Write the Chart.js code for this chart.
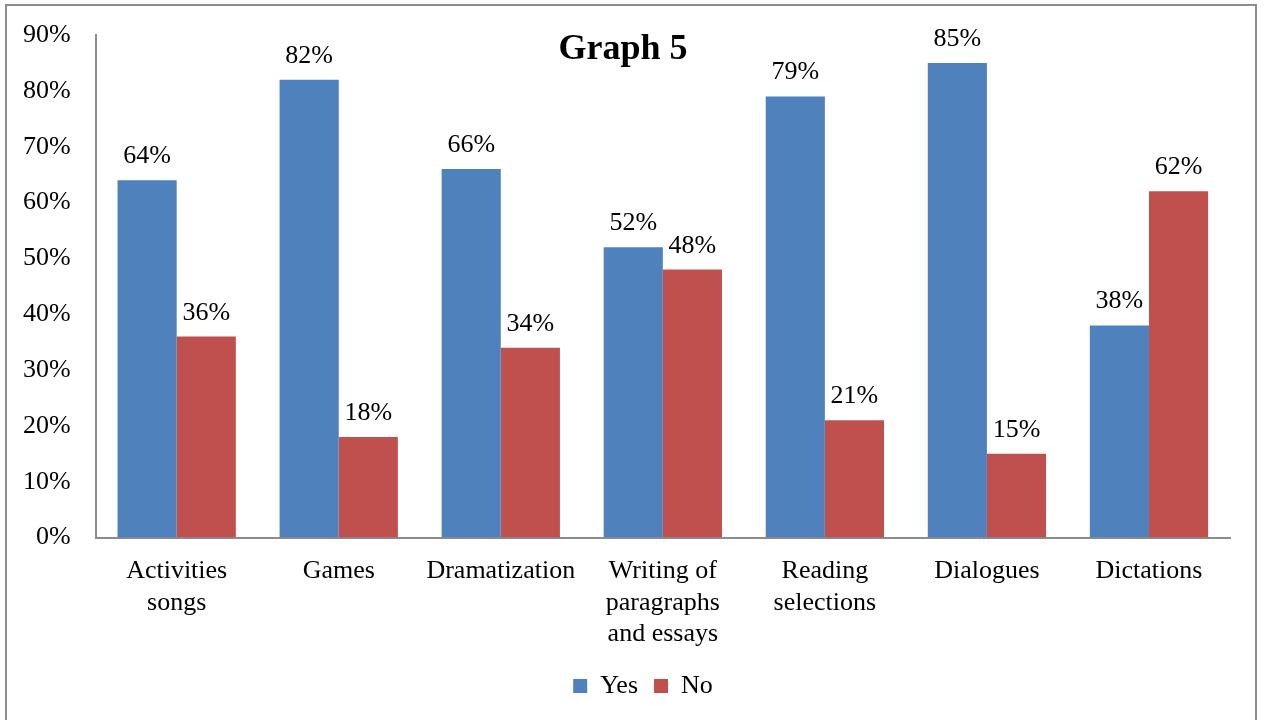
<!DOCTYPE html>
<html>
<head>
<meta charset="utf-8">
<script src="https://cdn.jsdelivr.net/npm/chart.js@4"></script>
<style>
  html, body { margin: 0; padding: 0; background: #fff; overflow: hidden; }
  #wrap { position: relative; width: 1266px; height: 720px; }
  #frame { position: absolute; left: 5px; top: 4px; width: 1252px; height: 730px;
           border: 2px solid #8c8c8c; box-sizing: border-box; pointer-events: none; }
  canvas { position: absolute; left: 0; top: 0; }
</style>
</head>
<body>
<div id="wrap">
  <canvas id="c" width="1266" height="720"></canvas>
  <div id="frame"></div>
</div>
<script>
const categories = [
  ['Activities', 'songs'],
  'Games',
  'Dramatization',
  ['Writing of', 'paragraphs', 'and essays'],
  ['Reading', 'selections'],
  'Dialogues',
  'Dictations'
];
const yesValues = [64, 82, 66, 52, 79, 85, 38];
const noValues = [36, 18, 34, 48, 21, 15, 62];
const yTickMax = 90;
const chartTitle = 'Graph 5';

const serif = '"Liberation Serif", "Times New Roman", serif';
const textSize = 26;

// Writes each bar's percentage just above its top
const valueLabels = {
  id: 'valueLabels',
  afterDatasetsDraw(chart) {
    const ctx = chart.ctx;
    ctx.save();
    ctx.font = textSize + 'px ' + serif;
    ctx.fillStyle = '#000';
    ctx.textAlign = 'center';
    ctx.textBaseline = 'alphabetic';
    chart.data.datasets.forEach((ds, i) => {
      chart.getDatasetMeta(i).data.forEach((bar, j) => {
        ctx.fillText(ds.data[j] + '%', bar.x, bar.y - 17);
      });
    });
    ctx.restore();
  }
};

// Heading drawn over the upper part of the plot
const heading = {
  id: 'heading',
  afterDraw(chart) {
    const ctx = chart.ctx;
    ctx.save();
    ctx.font = 'bold 36px ' + serif;
    ctx.fillStyle = '#000';
    ctx.textAlign = 'center';
    ctx.textBaseline = 'middle';
    ctx.fillText(chartTitle, 623, 50);
    ctx.restore();
  }
};

// Nudges the legend row to the right of the canvas centre
const legendShift = {
  id: 'legendShift',
  afterLayout(chart) {
    chart.legend.left += 29;
    chart.legend.right += 29;
  }
};

new Chart(document.getElementById('c'), {
  type: 'bar',
  data: {
    labels: categories,
    datasets: [
      { label: 'Yes', data: yesValues, backgroundColor: '#4F81BD' },
      { label: 'No', data: noValues, backgroundColor: '#C0504D' }
    ]
  },
  options: {
    responsive: false,
    animation: false,
    events: [],
    datasets: { bar: { categoryPercentage: 0.73, barPercentage: 1.0 } },
    layout: { padding: { left: -2, right: 36, top: 35, bottom: 11 } },
    scales: {
      x: {
        grid: { display: false, drawTicks: false },
        border: { display: true, color: '#8c8c8c', width: 2 },
        ticks: {
          color: '#000', padding: 18, maxRotation: 0, autoSkip: false,
          font: { family: serif, size: textSize, lineHeight: 1.21 }
        },
        // let the legend sit a little closer to the last label line
        afterFit(scale) { scale.height -= 11; }
      },
      y: {
        min: 0, max: yTickMax,
        grid: { display: false, drawTicks: false },
        border: { display: true, color: '#8c8c8c', width: 2 },
        ticks: {
          stepSize: 10, color: '#000', padding: 25,
          font: { family: serif, size: textSize },
          callback: v => v + '%'
        },
        // the top label may overhang into the free margin above the plot
        afterFit(scale) { scale.paddingTop = 0; }
      }
    },
    plugins: {
      title: { display: false },
      tooltip: { enabled: false },
      legend: {
        position: 'bottom',
        labels: {
          color: '#000', boxWidth: 14, boxHeight: 14, padding: 16,
          font: { family: serif, size: textSize }
        }
      }
    }
  },
  plugins: [valueLabels, heading, legendShift]
});
</script>
</body>
</html>
